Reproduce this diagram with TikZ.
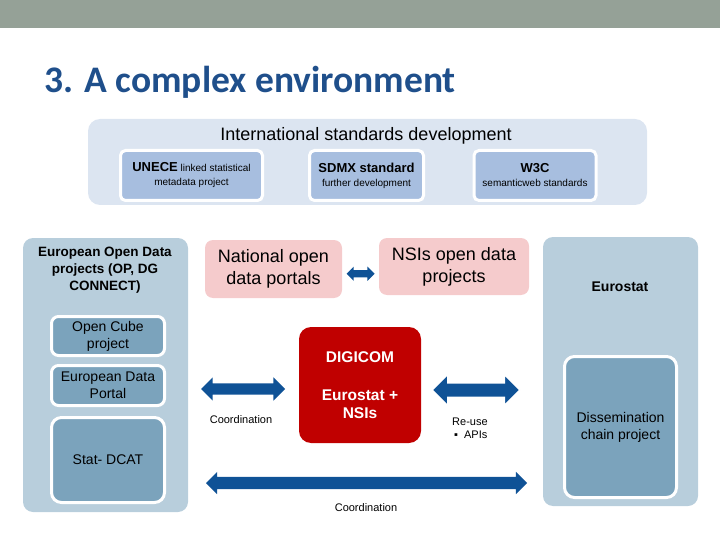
\documentclass[tikz,border=0pt]{standalone}
\usepackage{fontspec}
\setmainfont{Liberation Sans}
\newfontfamily\titlefont{Carlito}
\usepackage{xcolor}
\usetikzlibrary{shapes.arrows,calc}

\definecolor{topbar}{HTML}{95A197}
\definecolor{titleblue}{HTML}{1F4F8B}
\definecolor{stdback}{HTML}{DCE5F1}
\definecolor{stdbox}{HTML}{A7BEDF}
\definecolor{sidebox}{HTML}{B8CEDC}
\definecolor{innerbox}{HTML}{7BA3BC}
\definecolor{pinkbox}{HTML}{F5CBCC}
\definecolor{digired}{HTML}{C00000}
\definecolor{arrowblue}{HTML}{0F5296}

\newcommand{\fsz}[2]{\fontsize{#1}{#2}\selectfont}

\tikzset{
    groupbox/.style={rounded corners=10pt, fill=sidebox, inner sep=0pt},
    subbox/.style={rounded corners=7pt, fill=innerbox, draw=white, line width=3pt,
        inner sep=0pt, align=center, font=\fsz{14}{17}},
    stdsub/.style={rounded corners=5pt, fill=stdbox, draw=white, line width=3pt,
        inner sep=0pt, align=center, font=\fsz{10}{14}, minimum height=50pt},
    portal/.style={rounded corners=8pt, fill=pinkbox, inner sep=0pt, align=center,
        font=\fsz{18}{22}},
    fatarrow/.style={double arrow, fill=arrowblue, inner xsep=0pt, double arrow head extend=#1},
    note/.style={font=\fsz{11}{13}}
}

\begin{document}
\begin{tikzpicture}[x=1pt, y=-1pt]
    \useasboundingbox (0,0) rectangle (720,540);
    \fill[topbar] (0,0) rectangle (720,28);
    \node[anchor=base west, inner sep=0pt, text=titleblue, font=\titlefont\bfseries\fsz{37.5}{44}] (title) at (44,93) {3. A complex environment};

    % standards
    \node[fill=stdback, rounded corners=12pt, minimum width=559pt, minimum height=86pt] (isd) at (367.5,162) {};
    \node[anchor=base, font=\fsz{18}{21}] (isdtitle) at (366,141) {International standards development};
    \node[stdsub, minimum width=142pt] (unece) at (191.5,175.5) {{\bfseries\fsz{13}{15}UNECE} linked statistical\\metadata project};
    \node[stdsub, minimum width=114pt] (sdmx) at (366.5,175.5) {{\bfseries\fsz{13}{15}SDMX standard}\\further development};
    \node[stdsub, minimum width=122pt] (w3c) at (535,175.5) {{\bfseries\fsz{13}{15}W3C}\\semanticweb standards};

    % european projects
    \node[groupbox, minimum width=165pt, minimum height=274pt] (eodp) at (105.5,375) {};
    \node[align=center, font=\bfseries\fsz{13.5}{17}] (eodptitle) at (105,270) {European Open Data\\projects (OP, DG\\CONNECT)};
    \node[subbox, minimum width=113pt, minimum height=39pt] (opencube) at (108,336) {Open Cube\\project};
    \node[subbox, minimum width=113pt, minimum height=40pt] (edp) at (108,385.5) {European Data\\Portal};
    \node[subbox, minimum width=113pt, minimum height=85pt, rounded corners=10pt] (statdcat) at (108,460) {Stat- DCAT};

    % national
    \node[portal, minimum width=137pt, minimum height=58pt] (natl) at (273.5,269) {National open\\data portals};
    \node[portal, minimum width=150pt, minimum height=57pt] (nsi) at (454,266.5) {NSIs open data\\projects};
    \node[fatarrow=3.5pt, inner ysep=3.5pt, minimum height=28pt] (natlnsi) at ($(natl.east)!0.5!(nsi.west)+(0,6)$) {};

    % digicom
    \node[fill=digired, rounded corners=12pt, minimum width=122pt, minimum height=116pt, text=white,
        align=center, font=\bfseries\fsz{15.5}{18}] (digicom) at (360,385) {DIGICOM\\[20pt]Eurostat +\\NSIs};

    % eurostat
    \node[groupbox, minimum width=155pt, minimum height=269pt] (eurostat) at (620.5,371.5) {};
    \node[font=\bfseries\fsz{14}{16}] (eurostatlbl) at (620,287) {Eurostat};
    \node[subbox, minimum width=112pt, minimum height=141pt, rounded corners=10pt] (dissem) at (620.5,427) {Dissemination\\chain project};

    % arrows
    \node[fatarrow=6pt, inner ysep=5.5pt, minimum height=84pt] (coordl) at (243,389) {};
    \node[fatarrow=8.5pt, inner ysep=6.5pt, minimum height=88pt, draw=white, line width=1.5pt] (reuse) at (476,390) {};
    \node[fatarrow=5pt, inner ysep=6pt, minimum height=321pt] (coordb) at (366.5,483) {};

    \node[note] (coordllbl) at (241,420) {Coordination};
    \node[note, anchor=west, inner sep=0pt] (reuselbl) at (452,422) {Re-use};
    \node[note, anchor=west, inner sep=0pt] (apilbl) at (454,435) {▪\hspace{6pt}APIs};
    \node[note] (coordblbl) at (366,508) {Coordination};
\end{tikzpicture}
\end{document}
